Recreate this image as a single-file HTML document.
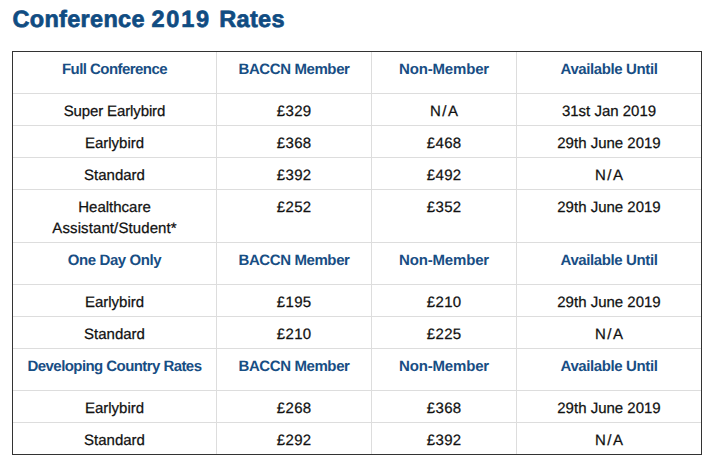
<!DOCTYPE html>
<html lang="en">
<head>
<meta charset="utf-8">
<title>Conference 2019 Rates</title>
<style>
html,body{margin:0;padding:0;background:#fff;}
body{text-rendering:geometricPrecision;width:719px;height:470px;overflow:hidden;position:relative;font-family:"Liberation Sans",sans-serif;color:#111;}
h2{position:absolute;left:0;top:5px;margin:0;width:719px;height:28px;font-size:23.5px;line-height:28px;font-weight:bold;color:#104c82;white-space:nowrap;-webkit-text-stroke:0.7px #104c82;}
h2 span{position:absolute;top:0;}
h2 .w1{left:12.5px;letter-spacing:0.3px;}
h2 .w2{left:151.4px;letter-spacing:1.8px;}
h2 .w3{left:219.3px;letter-spacing:0.3px;}
table{position:absolute;left:12px;top:51px;width:690px;border:1px solid #333;border-collapse:separate;border-spacing:0;table-layout:fixed;}
td,th{box-sizing:border-box;border-right:1px solid #ddd;border-bottom:1px solid #ddd;padding:7px 4px 3px;font-size:15px;line-height:21px;text-align:center;vertical-align:top;font-weight:normal;white-space:nowrap;-webkit-text-stroke:0.25px #111;}
td:last-child,th:last-child{border-right:0;}
tr:last-child td{border-bottom:0;}
th{font-weight:bold;color:#184e84;padding-bottom:13px;-webkit-text-stroke:0;}
.na{letter-spacing:1.5px;margin-right:-1.5px;}
.p{letter-spacing:0.35px;margin-right:-0.35px;}
.se{letter-spacing:-0.12px;margin-right:0.12px;}
.as{letter-spacing:0.1px;margin-right:-0.1px;}
</style>
</head>
<body>
<h2><span class="w1">Conference</span> <span class="w2">2019</span> <span class="w3">Rates</span></h2>
<table>
<colgroup><col style="width:204px"><col style="width:155px"><col style="width:145px"><col style="width:184px"></colgroup>
<tr><th><span style="letter-spacing:-0.56px">Full Conference</span></th><th><span style="letter-spacing:-0.4px">BACCN Member</span></th><th><span style="letter-spacing:-0.17px">Non-Member</span></th><th><span style="letter-spacing:-0.39px">Available Until</span></th></tr>
<tr><td><span class="se">Super Earlybird</span></td><td><span class="p">£329</span></td><td><span class="na">N/A</span></td><td>31st Jan 2019</td></tr>
<tr><td>Earlybird</td><td><span class="p">£368</span></td><td><span class="p">£468</span></td><td>29th June 2019</td></tr>
<tr><td>Standard</td><td><span class="p">£392</span></td><td><span class="p">£492</span></td><td><span class="na">N/A</span></td></tr>
<tr><td>Healthcare<br><span class="as">Assistant/Student*</span></td><td><span class="p">£252</span></td><td><span class="p">£352</span></td><td>29th June 2019</td></tr>
<tr><th><span style="letter-spacing:-0.4px">One Day Only</span></th><th><span style="letter-spacing:-0.4px">BACCN Member</span></th><th><span style="letter-spacing:-0.17px">Non-Member</span></th><th><span style="letter-spacing:-0.39px">Available Until</span></th></tr>
<tr><td>Earlybird</td><td><span class="p">£195</span></td><td><span class="p">£210</span></td><td>29th June 2019</td></tr>
<tr><td>Standard</td><td><span class="p">£210</span></td><td><span class="p">£225</span></td><td><span class="na">N/A</span></td></tr>
<tr><th><span style="letter-spacing:-0.57px">Developing Country Rates</span></th><th><span style="letter-spacing:-0.4px">BACCN Member</span></th><th><span style="letter-spacing:-0.17px">Non-Member</span></th><th><span style="letter-spacing:-0.39px">Available Until</span></th></tr>
<tr><td>Earlybird</td><td><span class="p">£268</span></td><td><span class="p">£368</span></td><td>29th June 2019</td></tr>
<tr><td>Standard</td><td><span class="p">£292</span></td><td><span class="p">£392</span></td><td><span class="na">N/A</span></td></tr>
</table>
</body>
</html>
